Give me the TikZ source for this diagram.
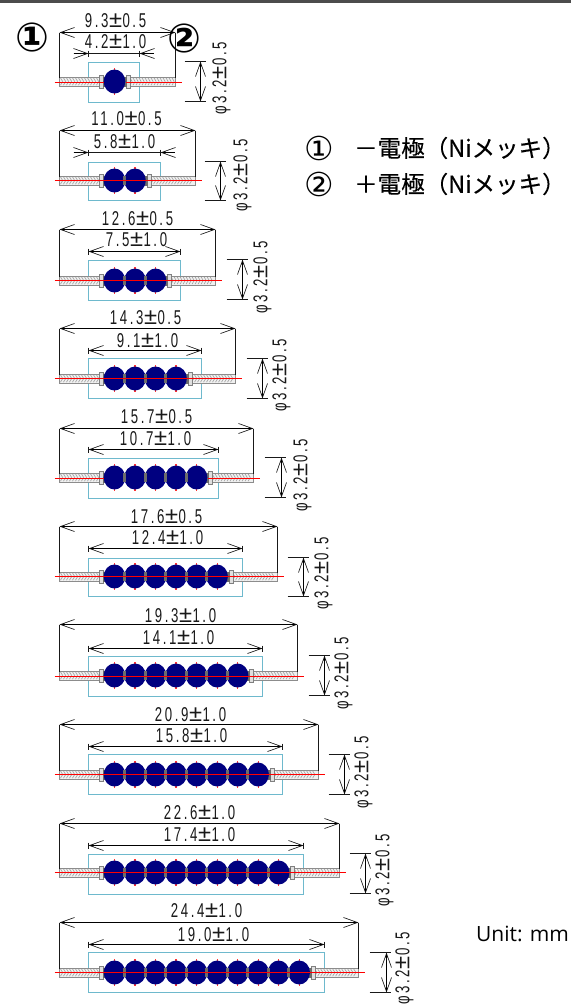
\documentclass[tikz,border=0pt]{standalone}
\usepackage{graphicx}
\usepackage{fontspec}
\usetikzlibrary{arrows.meta}
\newfontfamily\cadfont[LetterSpace=20]{Liberation Sans}
\newfontfamily\jpfont[FakeBold=.25]{Noto Sans CJK JP}
\newfontfamily\markfont{DejaVu Sans}
\newfontfamily\unitfont{Open Sans}
\definecolor{beadblue}{RGB}{0,0,128}
\definecolor{boxteal}{RGB}{110,185,205}
\definecolor{dimink}{RGB}{25,25,25}
\newcommand{\cadtext}[1]{\scalebox{.66}[1]{\fontsize{20}{20}\selectfont\cadfont #1}}
\newcommand{\pmk}{\kern1pt\scalebox{1.8}[1.15]{±}\kern.5pt}
\tikzset{
  dimtext/.style={inner sep=0pt,text=dimink},
  dimline/.style={draw=dimink,line width=1pt},
  extline/.style={draw=dimink,line width=1pt},
  barbtips/.style={draw=dimink,line width=.65pt,{Straight Barb[length=14pt,width=10pt]}-{Straight Barb[length=14pt,width=10pt]}},
  barbtip/.style={draw=dimink,line width=.65pt,-{Straight Barb[length=14pt,width=10pt]}},
  dottips/.style={draw=black,line width=1pt,{Latex[length=5pt,width=2.5pt]}-{Latex[length=5pt,width=2.5pt]}},
  dottip/.style={draw=black,line width=1pt,-{Latex[length=5pt,width=2.5pt]}},
  holder/.style={draw=boxteal,line width=1.3pt},
  wire/.style={draw=gray!90,line width=1pt,fill=gray!12},
  hatchline/.style={draw=gray!75,line width=.6pt},
  capp/.style={draw=gray,line width=1pt,fill=gray!25},
  collar/.style={fill=gray!85!black,draw=none},
  redline/.style={draw=red,line width=1.4pt},
  beadtick/.style={draw=red!80,line width=1.2pt},
  bead/.style={fill=beadblue,draw=none},
  jptext/.style={inner sep=0pt,anchor=west,font=\fontsize{23.5}{24}\selectfont\jpfont,text=black},
  jpnum/.style={inner sep=0pt,font=\fontsize{33}{33}\selectfont\markfont,text=black},
  bignum/.style={inner sep=0pt,font=\fontsize{40}{40}\selectfont\markfont\bfseries,text=black},
}
\newcommand{\hatchrun}[3]{%
  \pgfmathsetmacro{\hxb}{#1+3}
  \foreach \hx in {#1,\hxb,...,#2}{
    \draw[hatchline] (\hx,#3-3.6) -- (\hx+2.2,#3);
    \draw[hatchline] (\hx+2.2,#3) -- (\hx,#3+3.6);
  }}
\begin{document}
\begin{tikzpicture}[x=1pt,y=-1pt]
\useasboundingbox (0,0) rectangle (571,1005);
\fill[fill=white] (0,0) rectangle (571,1005);
\fill[fill=black!70] (0,0) rectangle (571,2.5);
\begin{scope}[shift={(.5,.5)}]
\foreach \id/\ay/\rx/\oy/\iy/\irx/\bt/\bb/\pl/\pa/\ptx/\pyc/\otx/\oty/\itx/\ity/\otxt/\itxt/\n/\front/\outside in {
 a/81/175/32/53/139/61/101/184/200/221/78/115/20/115/41/9.3\pmk 0.5/4.2\pmk 1.0/1/0/1,
 b/180/195/130/152/160/161/200/204/220/242/175/126/118/124/141/11.0\pmk 0.5/5.8\pmk 1.0/2/1/1,
 c/280/215/229/251/180/259/299/226/242/262/277/137/218/136/239/12.6\pmk 0.5/7.5\pmk 1.0/3/1/0,
 d/378/235/328/350/201/358/398/246/262/281/375/145/317/147/340/14.3\pmk 0.5/9.1\pmk 1.0/4/1/0,
 e/477/253/428/449/218/457/497/264/281/302/475/156/416/155/438/15.7\pmk 0.5/10.7\pmk 1.0/5/0/0,
 f/576/277/526/548/242/557/596/287/303/323/573/166/516/167/537/17.6\pmk 0.5/12.4\pmk 1.0/6/1/0,
 g/675/297/624/648/262/655/695/308/324/343/673/180/615/178/637/19.3\pmk 1.0/14.1\pmk 1.0/7/1/0,
 h/774/318/724/746/282/754/794/328/344/363/772/190/714/191/735/20.9\pmk 1.0/15.8\pmk 1.0/8/1/0,
 i/872/339/823/845/303/853/893/349/365/384/870/199/812/199/834/22.6\pmk 1.0/17.4\pmk 1.0/9/1/0,
 j/972/358/922/944/324/952/992/369/386/404/968/206/910/213/934/24.4\pmk 1.0/19.0\pmk 1.0/10/1/0}
{
  \pgfmathsetmacro{\hbt}{2*ceil(\bt/2)}
  \pgfmathsetmacro{\hbb}{2*ceil(\bb/2)}
  \pgfmathsetmacro{\ry}{2*ceil(\ay/2)}
  \draw[holder] (88,\hbt) rectangle (\irx,\hbb);
  \pgfmathsetmacro{\lastc}{114+20.52*(\n-1)}
  \pgfmathsetmacro{\capx}{\lastc+10.5}
  \coordinate (\id-ol) at (59,\oy);
  \coordinate (\id-or) at (\rx,\oy);
  \coordinate (\id-wl) at (59,\ay-4);
  \coordinate (\id-wr) at (\rx,\ay-4);
  \coordinate (\id-il) at (88,\iy);
  \coordinate (\id-ir) at (\irx,\iy);
  \coordinate (\id-ilo) at (73,\iy);
  \coordinate (\id-iro) at (\irx+14,\iy);
  \coordinate (\id-pt) at (\pa,\bt);
  \coordinate (\id-pb) at (\pa,\bb);
  \coordinate (\id-ptl) at (\pl,\bt);
  \coordinate (\id-ptr) at (\pl+21,\bt);
  \coordinate (\id-pbl) at (\pl,\bb);
  \coordinate (\id-pbr) at (\pl+21,\bb);
  \draw[wire] (59,\ay-4.5) rectangle (99,\ay+4.5);
  \hatchrun{60}{96}{\ay}
  \draw[wire] (\capx+4,\ay-4.5) rectangle (\rx,\ay+4.5);
  \pgfmathsetmacro{\hstart}{\capx+5}
  \pgfmathsetmacro{\hend}{\rx-3}
  \hatchrun{\hstart}{\hend}{\ay}
  \draw[capp] (98.5,\ay-6.5) rectangle (102.5,\ay+6.5);
  \draw[capp] (\capx+1.5,\ay-6.5) rectangle (\capx+5.5,\ay+6.5);
  \fill[collar] (102,\ay-5) rectangle (105,\ay+5);
  \fill[collar] (\capx-1,\ay-5) rectangle (\capx+2,\ay+5);
  \foreach \k in {1,...,\n}{
    \pgfmathsetmacro{\cx}{114+20.52*(\k-1)}
    \draw[beadtick] (\cx,\ay-13.5) -- (\cx,\ay+13.5);
    \fill[bead] (\cx,\ay) ellipse [x radius=10.8,y radius=12];
  }
  \ifnum\n>1
  \pgfmathtruncatemacro{\nm}{\n-1}
  \foreach \k in {1,...,\nm}{
    \pgfmathsetmacro{\mx}{114+20.52*(\k-1)+10.26}
    \fill[collar] (\mx-1.5,\ay-4.5) rectangle (\mx+1.5,\ay+4.5);
  }
  \fi
  \ifnum\front=1 \draw[redline] (54,\ry) -- (\rx+6.5,\ry); \else
  \draw[redline] (54,\ry) -- (103,\ry);
  \draw[redline] (\capx+1,\ry) -- (\rx+6.5,\ry); \fi
  \draw[extline] (\id-ol) -- (\id-wl);
  \draw[extline] (\id-or) -- (\id-wr);
  \draw[barbtips] (\id-ol) -- (\id-or);
  \draw[dottips] (\id-ol) -- (\id-or);
  \node[dimtext] (\id-ot) at (\otx,\oty) {\cadtext{\otxt}};
  \draw[extline] ([yshift=3pt]\id-il) -- ([yshift=-3pt]\id-il);
  \draw[extline] ([yshift=3pt]\id-ir) -- ([yshift=-3pt]\id-ir);
  \ifnum\outside=1
    \draw[dimline] (\id-il) -- (\id-ir);
    \draw[barbtip] (\id-ilo) -- (\id-il);
    \draw[barbtip] (\id-iro) -- (\id-ir);
    \draw[dottip] (\id-ilo) -- (\id-il);
    \draw[dottip] (\id-iro) -- (\id-ir);
  \else
    \draw[barbtips] (\id-il) -- (\id-ir);
    \draw[dottips] (\id-il) -- (\id-ir);
  \fi
  \node[dimtext] (\id-it) at (\itx,\ity) {\cadtext{\itxt}};
  \draw[extline] (\id-ptl) -- (\id-ptr);
  \draw[extline] (\id-pbl) -- (\id-pbr);
  \draw[barbtips] (\id-pt) -- (\id-pb);
  \draw[dottips] (\id-pt) -- (\id-pb);
  \node[dimtext,rotate=90] (\id-pd) at (\ptx,\pyc) {\cadtext{φ3.2\pmk 0.5}};
}
\end{scope}
\node[bignum] (m1) at (32,37) {①};
\node[bignum] (m2) at (184,38) {②};
\node[jpnum] (k1) at (319,148) {①};
\node[jptext] (l1) at (354,148) {－電極（Niメッキ）};
\node[jpnum] (k2) at (319,184) {②};
\node[jptext] (l2) at (354,184) {＋電極（Niメッキ）};
\node[inner sep=0pt,anchor=west,font=\fontsize{21}{21}\selectfont\unitfont] (u) at (476,934) {Unit: mm};
\end{tikzpicture}
\end{document}
